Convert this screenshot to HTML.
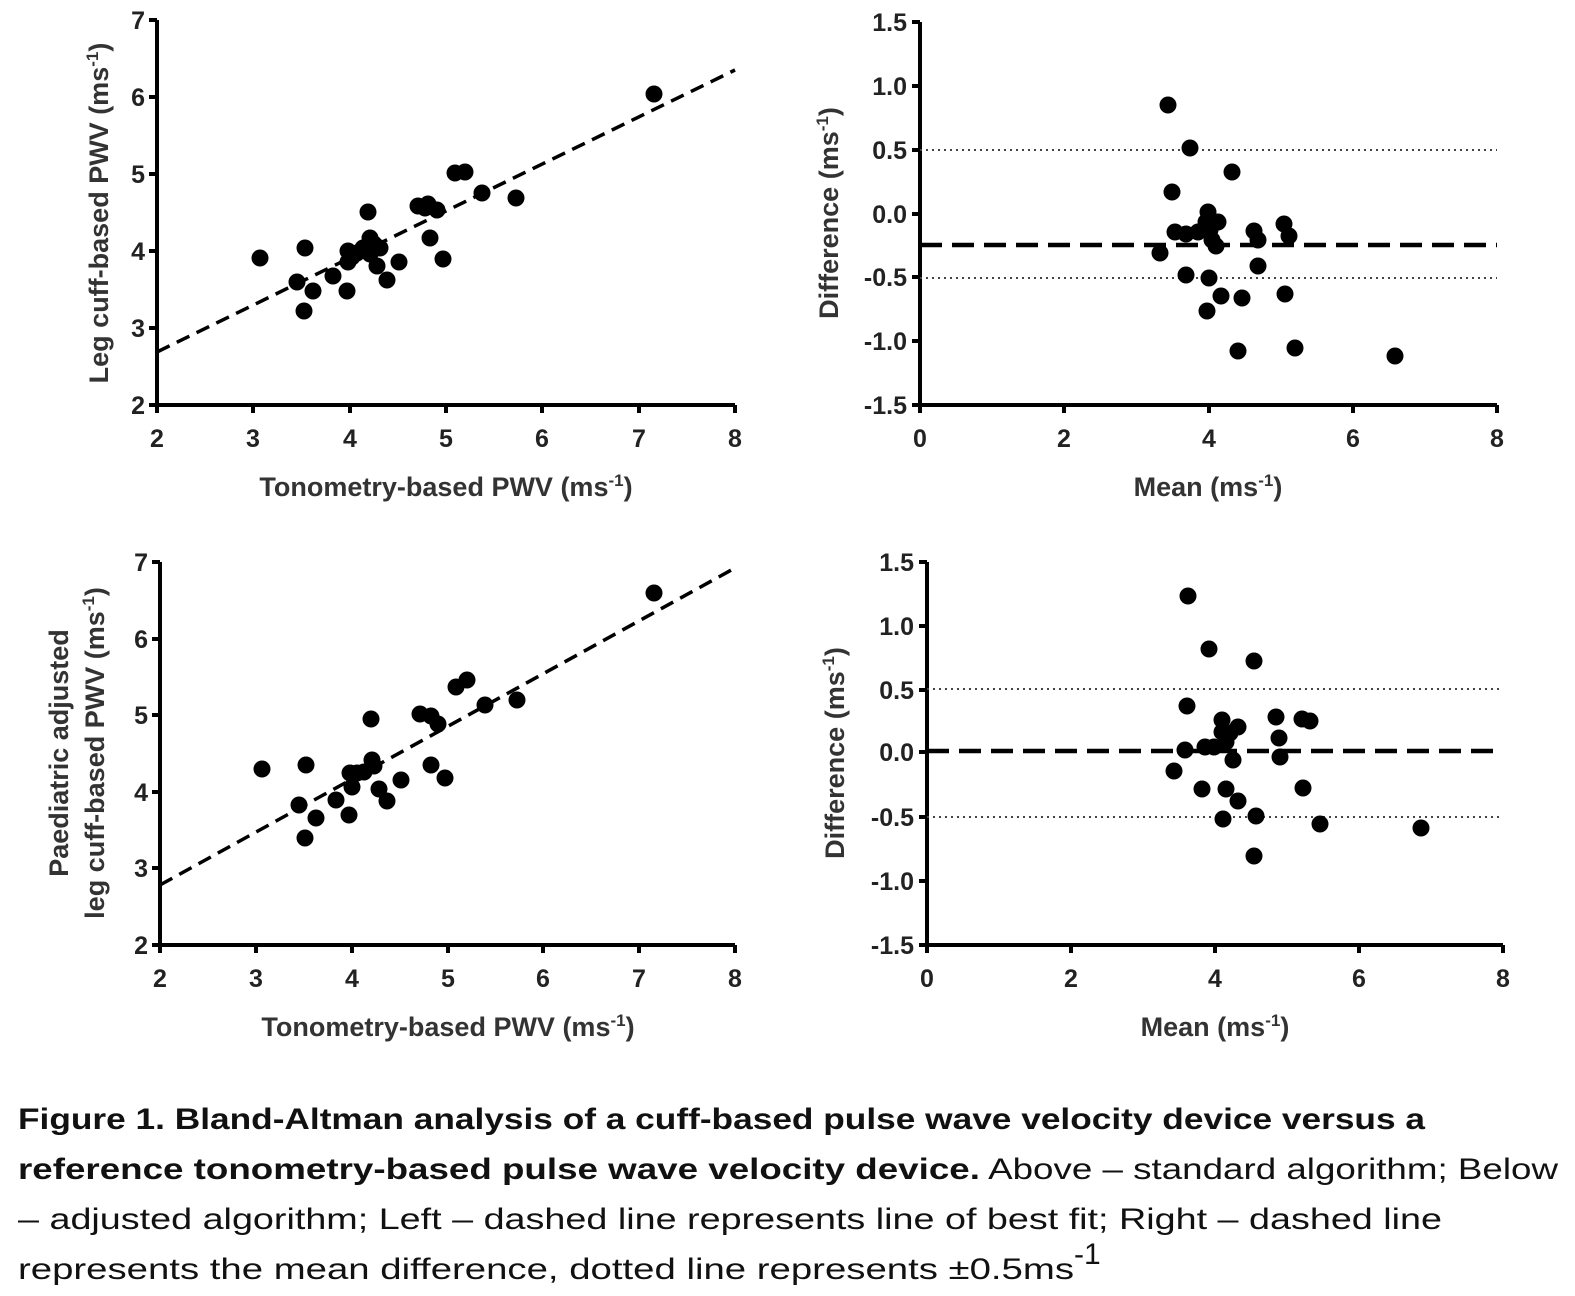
<!DOCTYPE html>
<html><head><meta charset="utf-8"><style>
html,body{margin:0;padding:0;background:#fff;}
svg{display:block;}
.t{font-family:"Liberation Sans",Arial,sans-serif;font-weight:bold;font-size:25px;fill:#222;}
.a{font-family:"Liberation Sans",Arial,sans-serif;font-weight:bold;font-size:27px;fill:#333;}
.c{font-family:"Liberation Sans Narrow","Liberation Sans",Arial,sans-serif;font-size:30px;fill:#111;}
</style></head><body>
<svg width="1575" height="1296" viewBox="0 0 1575 1296" xmlns="http://www.w3.org/2000/svg">
<rect width="1575" height="1296" fill="#fff"/>
<g stroke="#000" stroke-width="4" fill="none">
<path d="M157,20 V405 H735"/>
<path d="M149,20H157M149,97H157M149,174H157M149,251H157M149,328H157M149,405H157"/>
<path d="M157,405V413M253,405V413M350,405V413M446,405V413M542,405V413M639,405V413M735,405V413"/>
<path d="M920,22 V405 H1497"/>
<path d="M912,22H920M912,86H920M912,150H920M912,214H920M912,277H920M912,341H920M912,405H920"/>
<path d="M920,405V413M1064,405V413M1209,405V413M1353,405V413M1497,405V413"/>
<path d="M160,562 V945 H735"/>
<path d="M152,562H160M152,639H160M152,715H160M152,792H160M152,868H160M152,945H160"/>
<path d="M160,945V953M256,945V953M352,945V953M448,945V953M543,945V953M639,945V953M735,945V953"/>
<path d="M927,562 V945 H1503"/>
<path d="M919,562H927M919,626H927M919,690H927M919,752H927M919,817H927M919,881H927M919,945H927"/>
<path d="M927,945V953M1071,945V953M1215,945V953M1359,945V953M1503,945V953"/>
</g>
<g stroke="#000" fill="none">
<line x1="157" y1="352" x2="735" y2="70" stroke-width="3.5" stroke-dasharray="14,8"/>
<line x1="160" y1="885" x2="735" y2="568" stroke-width="3.5" stroke-dasharray="14,8"/>
<line x1="920" y1="245" x2="1497" y2="245" stroke-width="4.5" stroke-dasharray="22,10"/>
<line x1="927" y1="751" x2="1503" y2="751" stroke-width="4.5" stroke-dasharray="22,10"/>
<g stroke-width="2" stroke-dasharray="2,4" stroke="#444">
<line x1="920" y1="150" x2="1497" y2="150"/><line x1="920" y1="278" x2="1497" y2="278"/>
<line x1="927" y1="689" x2="1503" y2="689"/><line x1="927" y1="817" x2="1503" y2="817"/>
</g>
</g>
<g fill="#000">
<circle cx="260" cy="258" r="8.5"/><circle cx="305" cy="248" r="8.5"/><circle cx="297" cy="282" r="8.5"/><circle cx="313" cy="291" r="8.5"/><circle cx="304" cy="311" r="8.5"/><circle cx="333" cy="276" r="8.5"/><circle cx="347" cy="291" r="8.5"/><circle cx="348" cy="251" r="8.5"/><circle cx="352" cy="257" r="8.5"/><circle cx="357" cy="253" r="8.5"/><circle cx="363" cy="248" r="8.5"/><circle cx="370" cy="254" r="8.5"/><circle cx="368" cy="212" r="8.5"/><circle cx="370" cy="238" r="8.5"/><circle cx="374" cy="244" r="8.5"/><circle cx="377" cy="266" r="8.5"/><circle cx="380" cy="248" r="8.5"/><circle cx="387" cy="280" r="8.5"/><circle cx="399" cy="262" r="8.5"/><circle cx="418" cy="206" r="8.5"/><circle cx="428" cy="204" r="8.5"/><circle cx="430" cy="238" r="8.5"/><circle cx="437" cy="210" r="8.5"/><circle cx="443" cy="259" r="8.5"/><circle cx="455" cy="173" r="8.5"/><circle cx="465" cy="172" r="8.5"/><circle cx="482" cy="193" r="8.5"/><circle cx="516" cy="198" r="8.5"/><circle cx="654" cy="94" r="8.5"/><circle cx="348" cy="262" r="8.5"/><circle cx="425" cy="208" r="8.5"/>
<circle cx="1168" cy="105" r="8.5"/><circle cx="1190" cy="148" r="8.5"/><circle cx="1232" cy="172" r="8.5"/><circle cx="1172" cy="192" r="8.5"/><circle cx="1208" cy="212" r="8.5"/><circle cx="1175" cy="232" r="8.5"/><circle cx="1186" cy="234" r="8.5"/><circle cx="1198" cy="232" r="8.5"/><circle cx="1206" cy="222" r="8.5"/><circle cx="1210" cy="230" r="8.5"/><circle cx="1212" cy="240" r="8.5"/><circle cx="1218" cy="222" r="8.5"/><circle cx="1216" cy="246" r="8.5"/><circle cx="1254" cy="231" r="8.5"/><circle cx="1258" cy="240" r="8.5"/><circle cx="1284" cy="224" r="8.5"/><circle cx="1289" cy="236" r="8.5"/><circle cx="1160" cy="253" r="8.5"/><circle cx="1186" cy="275" r="8.5"/><circle cx="1209" cy="278" r="8.5"/><circle cx="1258" cy="266" r="8.5"/><circle cx="1221" cy="296" r="8.5"/><circle cx="1207" cy="311" r="8.5"/><circle cx="1242" cy="298" r="8.5"/><circle cx="1285" cy="294" r="8.5"/><circle cx="1238" cy="351" r="8.5"/><circle cx="1295" cy="348" r="8.5"/><circle cx="1395" cy="356" r="8.5"/>
<circle cx="262" cy="769" r="8.5"/><circle cx="306" cy="765" r="8.5"/><circle cx="299" cy="805" r="8.5"/><circle cx="316" cy="818" r="8.5"/><circle cx="305" cy="838" r="8.5"/><circle cx="336" cy="800" r="8.5"/><circle cx="349" cy="815" r="8.5"/><circle cx="350" cy="773" r="8.5"/><circle cx="357" cy="773" r="8.5"/><circle cx="364" cy="772" r="8.5"/><circle cx="371" cy="719" r="8.5"/><circle cx="372" cy="760" r="8.5"/><circle cx="374" cy="766" r="8.5"/><circle cx="379" cy="789" r="8.5"/><circle cx="387" cy="801" r="8.5"/><circle cx="401" cy="780" r="8.5"/><circle cx="420" cy="714" r="8.5"/><circle cx="431" cy="716" r="8.5"/><circle cx="438" cy="724" r="8.5"/><circle cx="431" cy="765" r="8.5"/><circle cx="445" cy="778" r="8.5"/><circle cx="456" cy="687" r="8.5"/><circle cx="467" cy="680" r="8.5"/><circle cx="485" cy="705" r="8.5"/><circle cx="517" cy="700" r="8.5"/><circle cx="654" cy="593" r="8.5"/><circle cx="352" cy="787" r="8.5"/>
<circle cx="1188" cy="596" r="8.5"/><circle cx="1209" cy="649" r="8.5"/><circle cx="1254" cy="661" r="8.5"/><circle cx="1187" cy="706" r="8.5"/><circle cx="1222" cy="720" r="8.5"/><circle cx="1230" cy="733" r="8.5"/><circle cx="1238" cy="727" r="8.5"/><circle cx="1276" cy="717" r="8.5"/><circle cx="1302" cy="719" r="8.5"/><circle cx="1310" cy="721" r="8.5"/><circle cx="1185" cy="750" r="8.5"/><circle cx="1205" cy="747" r="8.5"/><circle cx="1214" cy="747" r="8.5"/><circle cx="1222" cy="732" r="8.5"/><circle cx="1226" cy="742" r="8.5"/><circle cx="1233" cy="760" r="8.5"/><circle cx="1279" cy="738" r="8.5"/><circle cx="1280" cy="757" r="8.5"/><circle cx="1174" cy="771" r="8.5"/><circle cx="1202" cy="789" r="8.5"/><circle cx="1226" cy="789" r="8.5"/><circle cx="1238" cy="801" r="8.5"/><circle cx="1223" cy="819" r="8.5"/><circle cx="1256" cy="816" r="8.5"/><circle cx="1254" cy="856" r="8.5"/><circle cx="1303" cy="788" r="8.5"/><circle cx="1320" cy="824" r="8.5"/><circle cx="1421" cy="828" r="8.5"/>
</g>
<g class="t" text-anchor="end">
<text x="145" y="29">7</text><text x="145" y="106">6</text><text x="145" y="183">5</text><text x="145" y="260">4</text><text x="145" y="337">3</text><text x="145" y="414">2</text>
<text x="907" y="31">1.5</text><text x="907" y="95">1.0</text><text x="907" y="159">0.5</text><text x="907" y="223">0.0</text><text x="907" y="286">-0.5</text><text x="907" y="350">-1.0</text><text x="907" y="414">-1.5</text>
<text x="148" y="571">7</text><text x="148" y="648">6</text><text x="148" y="724">5</text><text x="148" y="801">4</text><text x="148" y="877">3</text><text x="148" y="954">2</text>
<text x="914" y="571">1.5</text><text x="914" y="635">1.0</text><text x="914" y="699">0.5</text><text x="914" y="761">0.0</text><text x="914" y="826">-0.5</text><text x="914" y="890">-1.0</text><text x="914" y="954">-1.5</text>
</g>
<g class="t" text-anchor="middle">
<text x="157" y="447">2</text><text x="253" y="447">3</text><text x="350" y="447">4</text><text x="446" y="447">5</text><text x="542" y="447">6</text><text x="639" y="447">7</text><text x="735" y="447">8</text>
<text x="920" y="447">0</text><text x="1064" y="447">2</text><text x="1209" y="447">4</text><text x="1353" y="447">6</text><text x="1497" y="447">8</text>
<text x="160" y="987">2</text><text x="256" y="987">3</text><text x="352" y="987">4</text><text x="448" y="987">5</text><text x="543" y="987">6</text><text x="639" y="987">7</text><text x="735" y="987">8</text>
<text x="927" y="987">0</text><text x="1071" y="987">2</text><text x="1215" y="987">4</text><text x="1359" y="987">6</text><text x="1503" y="987">8</text>
</g>
<g class="a" text-anchor="middle">
<text x="446" y="496">Tonometry-based PWV (ms<tspan font-size="17" dy="-10">-1</tspan><tspan dy="10">)</tspan></text>
<text x="1208" y="496">Mean (ms<tspan font-size="17" dy="-10">-1</tspan><tspan dy="10">)</tspan></text>
<text x="448" y="1036">Tonometry-based PWV (ms<tspan font-size="17" dy="-10">-1</tspan><tspan dy="10">)</tspan></text>
<text x="1215" y="1036">Mean (ms<tspan font-size="17" dy="-10">-1</tspan><tspan dy="10">)</tspan></text>
<text transform="translate(108,213) rotate(-90)">Leg cuff-based PWV (ms<tspan font-size="17" dy="-10">-1</tspan><tspan dy="10">)</tspan></text>
<text transform="translate(838,213) rotate(-90)">Difference (ms<tspan font-size="17" dy="-10">-1</tspan><tspan dy="10">)</tspan></text>
<text transform="translate(68,753) rotate(-90)">Paediatric adjusted</text>
<text transform="translate(104,753) rotate(-90)">leg cuff-based PWV (ms<tspan font-size="17" dy="-10">-1</tspan><tspan dy="10">)</tspan></text>
<text transform="translate(844,753) rotate(-90)">Difference (ms<tspan font-size="17" dy="-10">-1</tspan><tspan dy="10">)</tspan></text>
</g>
<text class="c" x="18" y="1129" font-weight="bold" textLength="1407" lengthAdjust="spacingAndGlyphs">Figure 1. Bland-Altman analysis of a cuff-based pulse wave velocity device versus a</text>
<text class="c" x="18" y="1179" textLength="1540" lengthAdjust="spacingAndGlyphs"><tspan font-weight="bold">reference tonometry-based pulse wave velocity device.</tspan> Above – standard algorithm; Below</text>
<text class="c" x="18" y="1229" textLength="1424" lengthAdjust="spacingAndGlyphs">– adjusted algorithm; Left – dashed line represents line of best fit; Right – dashed line</text>
<text class="c" x="18" y="1279" textLength="1056" lengthAdjust="spacingAndGlyphs">represents the mean difference, dotted line represents ±0.5ms</text>
<text class="c" x="1074" y="1264" font-size="17">-1</text>
</svg>
</body></html>
